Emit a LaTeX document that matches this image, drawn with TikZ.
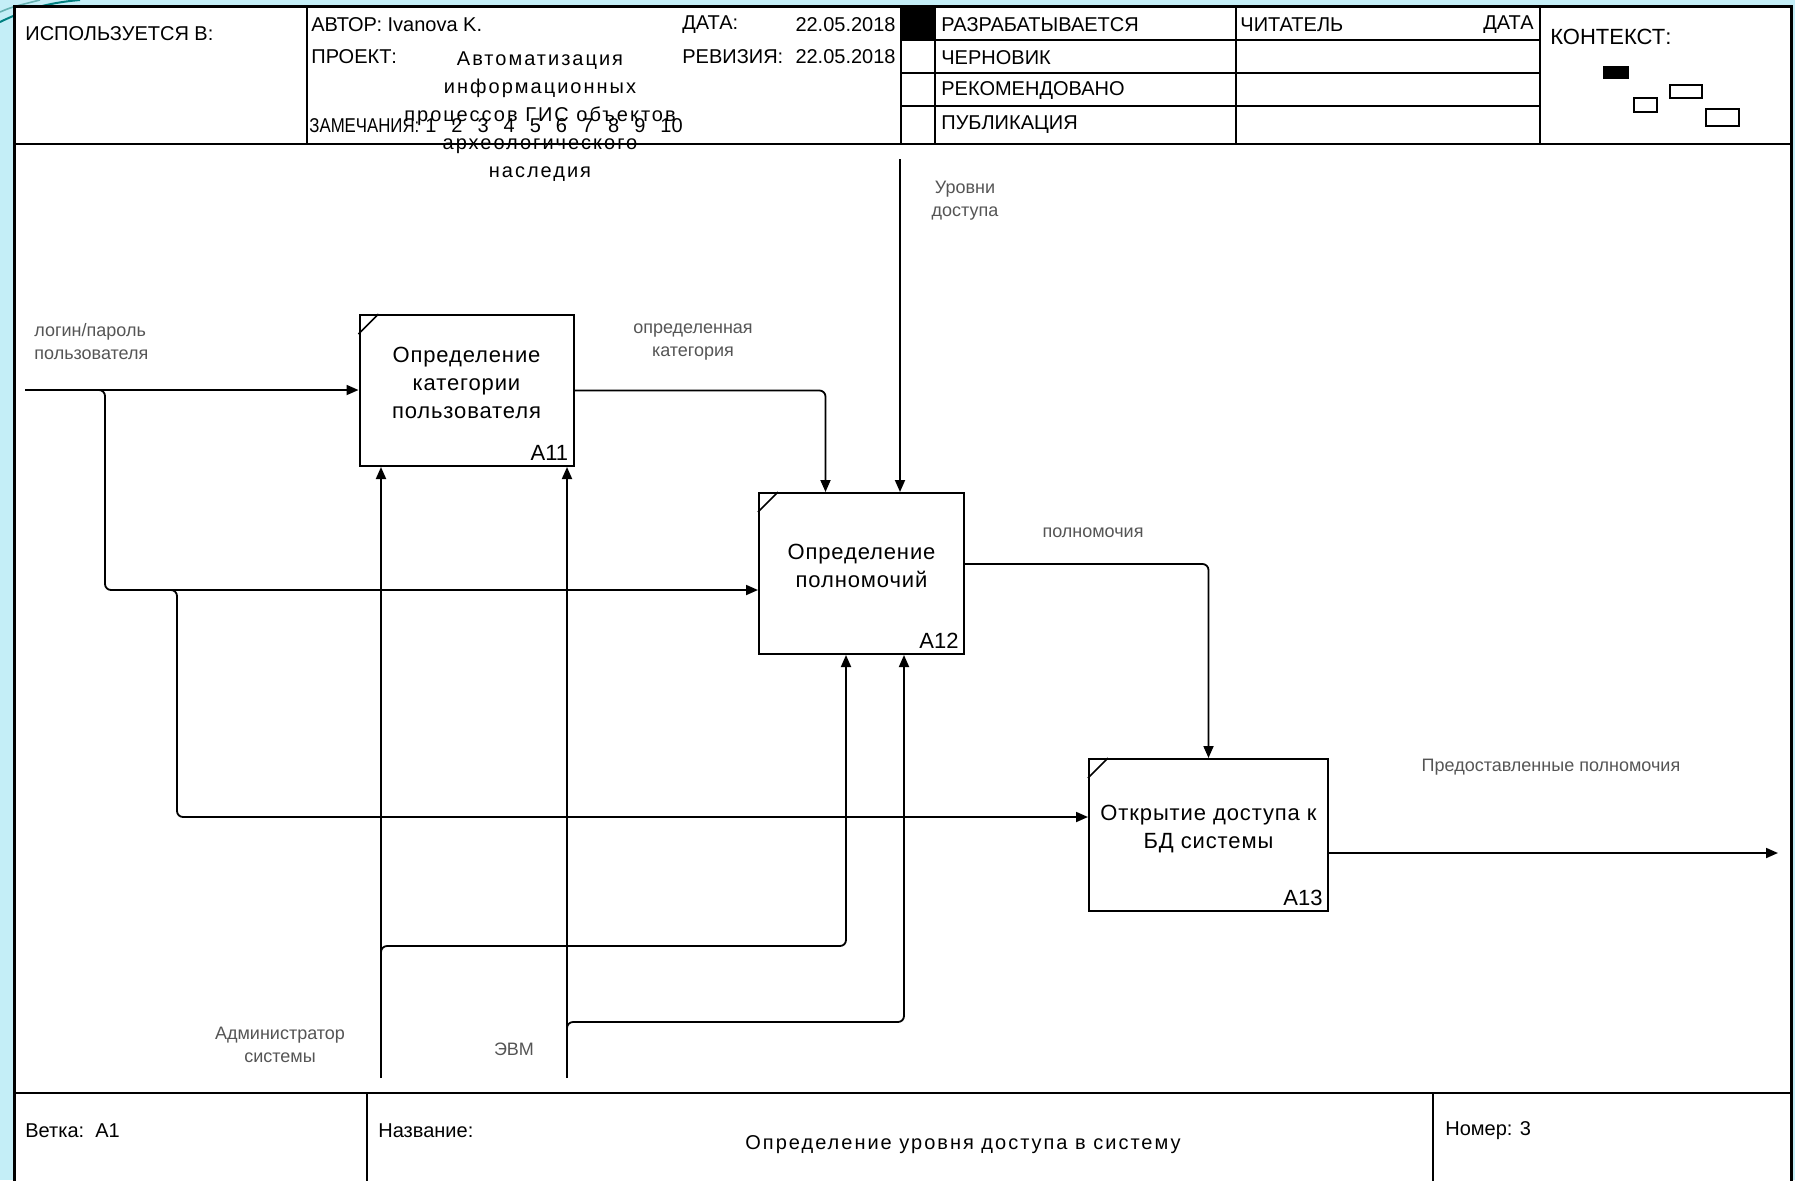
\documentclass[tikz,border=0pt]{standalone}
\usepackage{fontspec}
\usepackage{graphicx}
\setmainfont{Liberation Sans}
\newfontfamily\wfont[LetterSpace=10]{Liberation Sans}
\newfontfamily\bfont[LetterSpace=4]{Liberation Sans}
\usetikzlibrary{arrows.meta,positioning}
\definecolor{slidebg}{RGB}{196,238,247}
\definecolor{lblgray}{RGB}{85,85,85}
\newcommand{\nsp}{\hspace{7.5pt}}
\tikzset{
  fn/.style={draw, line width=1pt, fill=white, inner sep=0pt, align=center, text depth=8pt,
    font={\bfont\fontsize{11}{14}\selectfont}},
  arr/.style={line width=0.9pt, -{Triangle[length=6pt,width=5pt]}, rounded corners=3pt},
  lbl/.style={font={\fontsize{9}{11.5}\selectfont}, text=lblgray, align=center, inner sep=0pt},
  hd/.style={font={\fontsize{10}{12}\selectfont}, inner sep=0pt, anchor=west},
  num/.style={font={\fontsize{11}{13}\selectfont}, anchor=south east, inner sep=3pt}
}
\begin{document}
\begin{tikzpicture}[x=0.5pt, y=-0.5pt]
  \useasboundingbox (0,0) rectangle (1795,1180);
  \clip (0,0) rectangle (1795,1180);
  % slide background
  \fill[slidebg] (0,0) rectangle (1795,1180);
  \draw[teal, line width=1pt] (0,22) .. controls (25,10) and (45,3) .. (80,0);
  \draw[teal!60, line width=0.8pt] (0,12) .. controls (12,7) .. (40,0);
  % frame
  \draw[fill=white, line width=1.5pt] (14,6) rectangle (1791,1200);
  \draw[line width=1.2pt] (14,144) -- (1791,144) (14,1093) -- (1791,1093);
  % header
  \draw[line width=1pt] (307,6) -- (307,144) (901,6) -- (901,144) (935,6) -- (935,144)
    (1236,6) -- (1236,144) (1540,6) -- (1540,144);
  \draw[line width=1pt] (901,40) -- (1540,40) (901,73) -- (1540,73) (901,106) -- (1540,106);
  \fill (901,6) rectangle (935,40);
  \node[hd] (usedin) at (25,34) {ИСПОЛЬЗУЕТСЯ В:};
  \node[hd] (author) at (311,25) {АВТОР: Ivanova K.};
  \node[hd] (datelbl) at (682,25) {ДАТА:};
  \node[hd, anchor=east] (date) at (896,25) {22.05.2018};
  \node[hd] (projlbl) at (311,57) {ПРОЕКТ:};
  \node[hd] (revlbl) at (682,57) {РЕВИЗИЯ:};
  \node[hd, anchor=east] (rev) at (896,57) {22.05.2018};
  \node[hd] (notes) at (309,126) {\scalebox{0.84}[1]{ЗАМЕЧАНИЯ:}\hspace{3pt}1\nsp 2\nsp 3\nsp 4\nsp 5\nsp 6\nsp 7\nsp 8\nsp 9\nsp 10};
  \node[font={\wfont\fontsize{10}{14}\selectfont}, align=center, inner sep=0pt] (proj) at (540,117)
    {Автоматизация\\информационных\\процессов ГИС объектов\\археологического\\наследия};
  \node[hd] (st1) at (941,25) {РАЗРАБАТЫВАЕТСЯ};
  \node[hd] (st2) at (941,58) {ЧЕРНОВИК};
  \node[hd] (st3) at (941,91) {РЕКОМЕНДОВАНО};
  \node[hd] (st4) at (941,125) {ПУБЛИКАЦИЯ};
  \node[hd] (reader) at (1240,25) {ЧИТАТЕЛЬ};
  \node[hd, anchor=east] (rdate) at (1534,25) {ДАТА};
  \node[hd, font={\fontsize{11}{13}\selectfont}] (ctx) at (1550,37) {КОНТЕКСТ:};
  \fill (1603,66) rectangle (1629,79);
  \draw[line width=1pt] (1634,98) rectangle (1657,112) (1670,85) rectangle (1702,98)
    (1706,109) rectangle (1739,126);
  % footer
  \draw[line width=1pt] (367,1093) -- (367,1200) (1433,1093) -- (1433,1200);
  \node[hd] (branch) at (25,1131) {Ветка:\ \ A1};
  \node[hd] (ttllbl) at (378,1131) {Название:};
  \node[font={\wfont\fontsize{10}{12}\selectfont}, inner sep=0pt] (ttl) at (963,1145)
    {Определение уровня доступа в систему};
  \node[hd] (numlbl) at (1445,1131) {Номер: 3};
  % functions
  \node[fn, minimum width=107pt, minimum height=75.5pt] (a11) at (466.5,390.5)
    {Определение\\категории\\пользователя};
  \node[fn, minimum width=102.5pt, minimum height=80.5pt] (a12) at (861.5,573.5)
    {Определение\\полномочий};
  \node[fn, minimum width=119.5pt, minimum height=76pt] (a13) at (1208.5,835)
    {Открытие доступа к\\БД системы};
  \foreach \b/\n in {a11/A11, a12/A12, a13/A13} {
    \draw[line width=0.8pt] ([yshift=-10pt]\b.north west) -- ([xshift=10pt]\b.north west);
    \node[num] (\b-num) at (\b.south east) {\n};
  }
  % inputs
  \coordinate (in) at (25,390);
  \coordinate (j1) at (105,390);
  \coordinate (j2) at (177,590);
  \coordinate (j3) at (177,817);
  \draw[arr] (in) -- (in -| a11.west);
  \draw[arr] ([xshift=-4pt]j1) -- (j1) -- (j1 |- j2) -- (j2 -| a12.west);
  \draw[arr] ([xshift=-4pt]j2) -- (j2) -- (j3) -- (j3 -| a13.west);
  \node[lbl, anchor=west, align=left] (inlbl) at (34,342) {логин/пароль\\пользователя};
  % links between functions
  \draw[arr] (a11.east) -| ([xshift=-18pt]a12.north);
  \node[lbl] (catlbl) at (693,342) {определенная\\категория};
  \draw[arr] ([yshift=4.75pt]a12.east) -| (a13.north);
  \node[lbl] (rightslbl) at (1093,533) {полномочия};
  % control
  \coordinate (lvl) at (900,159);
  \draw[arr] (lvl) -- (lvl |- a12.north);
  \node[lbl] (lvllbl) at (965,201) {Уровни\\доступа};
  % output
  \coordinate (out) at (1778,853);
  \draw[arr] (out -| a13.east) -- (out);
  \node[lbl] (outlbl) at (1551,767) {Предоставленные полномочия};
  % mechanisms
  \coordinate (adm) at (381,1078);
  \coordinate (k1) at (381,946);
  \coordinate (evm) at (567,1078);
  \coordinate (k2) at (567,1022);
  \draw[arr] (adm) -- (adm |- a11.south);
  \draw[arr] ([yshift=-4pt]k1) -- (k1) -| ([xshift=-7.75pt]a12.south);
  \draw[arr] (evm) -- (evm |- a11.south);
  \draw[arr] ([yshift=-4pt]k2) -- (k2) -| ([xshift=21.25pt]a12.south);
  \node[lbl] (admlbl) at (280,1045) {Администратор\\системы};
  \node[lbl] (evmlbl) at (514,1049) {ЭВМ};
\end{tikzpicture}
\end{document}
